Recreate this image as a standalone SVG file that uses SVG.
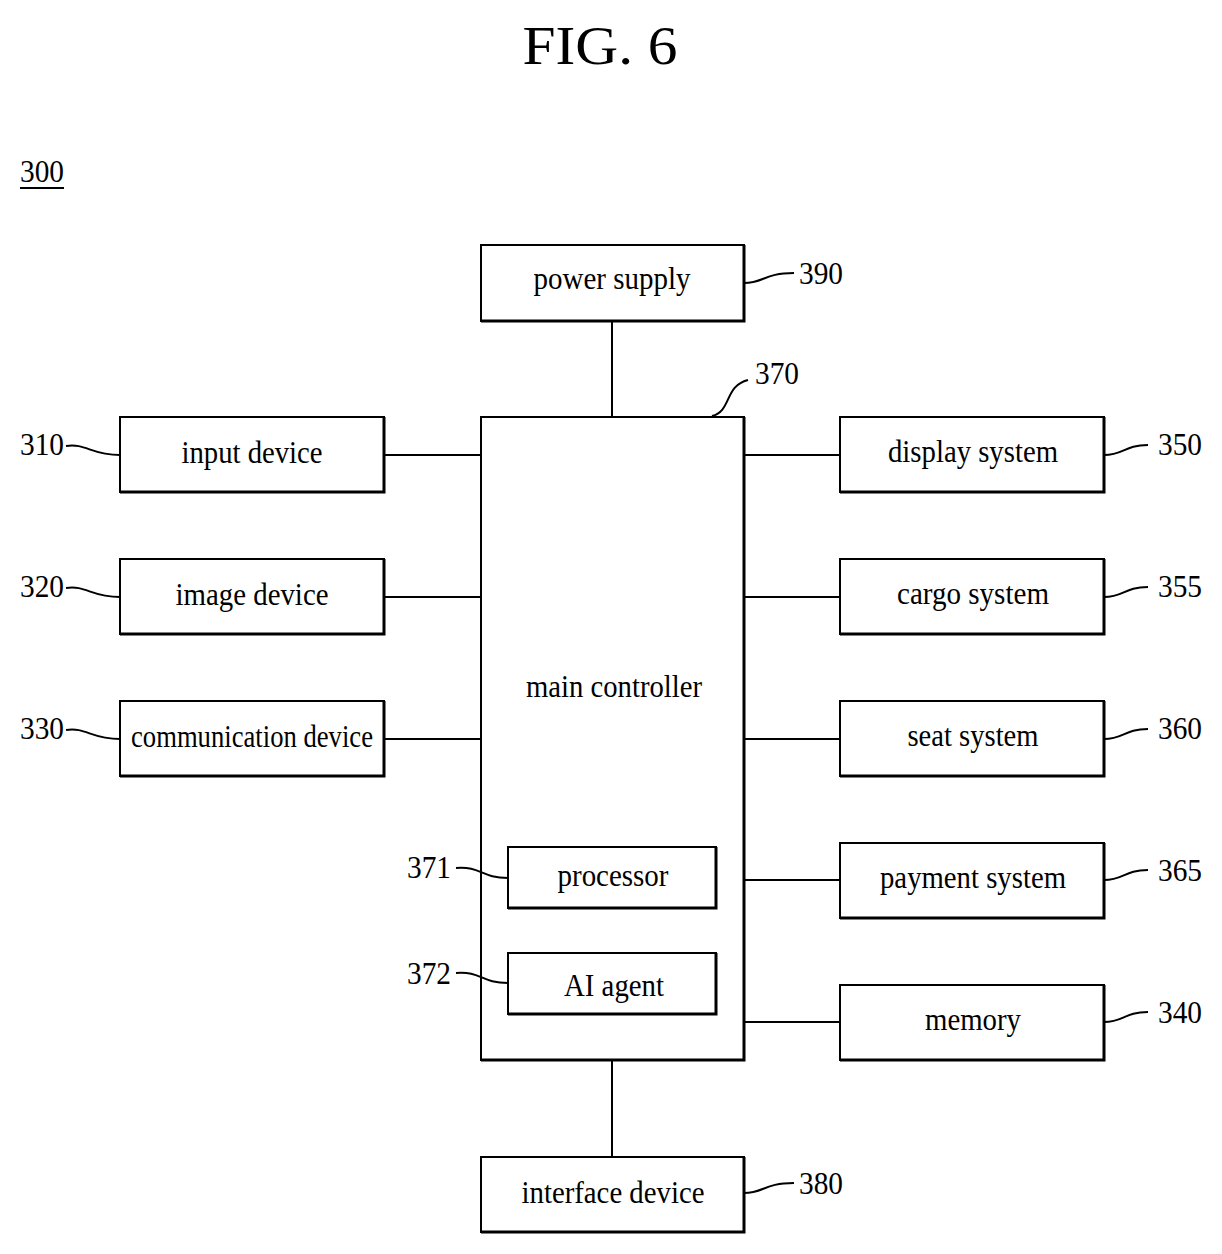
<svg xmlns="http://www.w3.org/2000/svg" width="1222" height="1254" viewBox="0 0 1222 1254">
<style>
text{font-family:"Liberation Serif","Times New Roman",serif;fill:#000}
.b{fill:#fff;stroke:#000;stroke-width:2}
.s{fill:none;stroke:#000;stroke-width:3}
.l{text-anchor:middle;font-size:31px}
.n{font-size:31px}
.c line,.c path{stroke:#000;stroke-width:2;fill:none}
</style>
<rect width="1222" height="1254" fill="#fff"/>
<text x="600" y="64" text-anchor="middle" font-size="54" textLength="155" lengthAdjust="spacingAndGlyphs">FIG. 6</text>
<text x="20" y="182" class="n" textLength="44" lengthAdjust="spacingAndGlyphs">300</text>
<line x1="20" y1="188" x2="64" y2="188" stroke="#000" stroke-width="2"/>
<g id="n390"><rect class="b" x="481" y="245" width="263" height="76"/><path class="s" d="M481,321H744V245"/><text class="l" x="612" y="289" textLength="157" lengthAdjust="spacingAndGlyphs">power supply</text></g>
<g id="n370"><rect class="b" x="481" y="417" width="263" height="643"/><path class="s" d="M481,1060H744V417"/><text class="l" x="614" y="697" textLength="176" lengthAdjust="spacingAndGlyphs">main controller</text></g>
<g id="n371"><rect class="b" x="508" y="847" width="208" height="61"/><path class="s" d="M508,908H716V847"/><text class="l" x="613" y="886" textLength="111" lengthAdjust="spacingAndGlyphs">processor</text></g>
<g id="n372"><rect class="b" x="508" y="953" width="208" height="61"/><path class="s" d="M508,1014H716V953"/><text class="l" x="614" y="996" textLength="100" lengthAdjust="spacingAndGlyphs">AI agent</text></g>
<g id="n380"><rect class="b" x="481" y="1157" width="263" height="75"/><path class="s" d="M481,1232H744V1157"/><text class="l" x="613" y="1203" textLength="183" lengthAdjust="spacingAndGlyphs">interface device</text></g>
<g id="n310"><rect class="b" x="120" y="417" width="264" height="75"/><path class="s" d="M120,492H384V417"/><text class="l" x="252" y="463" textLength="141" lengthAdjust="spacingAndGlyphs">input device</text></g>
<g id="n320"><rect class="b" x="120" y="559" width="264" height="75"/><path class="s" d="M120,634H384V559"/><text class="l" x="252" y="605" textLength="153" lengthAdjust="spacingAndGlyphs">image device</text></g>
<g id="n330"><rect class="b" x="120" y="701" width="264" height="75"/><path class="s" d="M120,776H384V701"/><text class="l" x="252" y="747" textLength="242" lengthAdjust="spacingAndGlyphs">communication device</text></g>
<g id="n350"><rect class="b" x="840" y="417" width="264" height="75"/><path class="s" d="M840,492H1104V417"/><text class="l" x="973" y="462" textLength="170" lengthAdjust="spacingAndGlyphs">display system</text></g>
<g id="n355"><rect class="b" x="840" y="559" width="264" height="75"/><path class="s" d="M840,634H1104V559"/><text class="l" x="973" y="604" textLength="152" lengthAdjust="spacingAndGlyphs">cargo system</text></g>
<g id="n360"><rect class="b" x="840" y="701" width="264" height="75"/><path class="s" d="M840,776H1104V701"/><text class="l" x="973" y="746" textLength="131" lengthAdjust="spacingAndGlyphs">seat system</text></g>
<g id="n365"><rect class="b" x="840" y="843" width="264" height="75"/><path class="s" d="M840,918H1104V843"/><text class="l" x="973" y="888" textLength="186" lengthAdjust="spacingAndGlyphs">payment system</text></g>
<g id="n340"><rect class="b" x="840" y="985" width="264" height="75"/><path class="s" d="M840,1060H1104V985"/><text class="l" x="973" y="1030" textLength="96" lengthAdjust="spacingAndGlyphs">memory</text></g>
<g class="c">
<line x1="612" y1="321" x2="612" y2="417"/><line x1="612" y1="1060" x2="612" y2="1157"/>
<line x1="384" y1="455" x2="481" y2="455"/><line x1="384" y1="597" x2="481" y2="597"/><line x1="384" y1="739" x2="481" y2="739"/>
<line x1="744" y1="455" x2="840" y2="455"/><line x1="744" y1="597" x2="840" y2="597"/><line x1="744" y1="739" x2="840" y2="739"/><line x1="744" y1="880" x2="840" y2="880"/><line x1="744" y1="1022" x2="840" y2="1022"/>
<path d="M66,446 c20,-3 25,9 54,9"/><path d="M66,588 c20,-3 25,9 54,9"/><path d="M66,730 c20,-3 25,9 54,9"/>
<path d="M1104,455 c20,0 20,-10 44,-10"/><path d="M1104,597 c20,0 20,-10 44,-10"/><path d="M1104,739 c20,0 20,-10 44,-10"/><path d="M1104,880 c20,0 20,-10 44,-10"/><path d="M1104,1022 c20,0 20,-10 44,-10"/>
<path d="M744,283 c20,0 20,-10 50,-10"/><path d="M744,1193 c20,0 20,-10 50,-10"/>
<path d="M712,416 c20,-5 12,-30 36,-36"/>
<path d="M456,868 c25,-2 25,10 52,10"/><path d="M456,973 c25,-2 25,10 52,10"/>
</g>
<g id="labels">
<text class="n" x="20" y="455" textLength="44" lengthAdjust="spacingAndGlyphs">310</text>
<text class="n" x="20" y="597" textLength="44" lengthAdjust="spacingAndGlyphs">320</text>
<text class="n" x="20" y="739" textLength="44" lengthAdjust="spacingAndGlyphs">330</text>
<text class="n" x="1158" y="455" textLength="44" lengthAdjust="spacingAndGlyphs">350</text>
<text class="n" x="1158" y="597" textLength="44" lengthAdjust="spacingAndGlyphs">355</text>
<text class="n" x="1158" y="739" textLength="44" lengthAdjust="spacingAndGlyphs">360</text>
<text class="n" x="1158" y="881" textLength="44" lengthAdjust="spacingAndGlyphs">365</text>
<text class="n" x="1158" y="1023" textLength="44" lengthAdjust="spacingAndGlyphs">340</text>
<text class="n" x="799" y="284" textLength="44" lengthAdjust="spacingAndGlyphs">390</text>
<text class="n" x="799" y="1194" textLength="44" lengthAdjust="spacingAndGlyphs">380</text>
<text class="n" x="755" y="384" textLength="44" lengthAdjust="spacingAndGlyphs">370</text>
<text class="n" x="407" y="878" textLength="44" lengthAdjust="spacingAndGlyphs">371</text>
<text class="n" x="407" y="984" textLength="44" lengthAdjust="spacingAndGlyphs">372</text>
</g>
</svg>
